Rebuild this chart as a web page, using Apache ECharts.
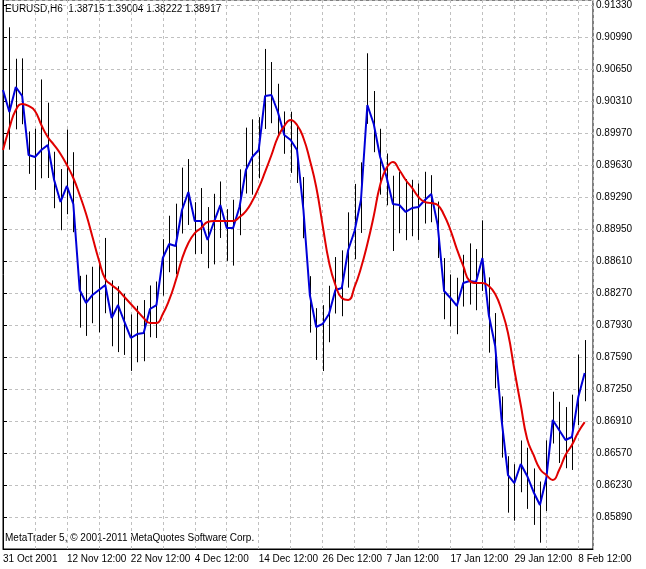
<!DOCTYPE html>
<html>
<head>
<meta charset="utf-8">
<script src="https://cdn.jsdelivr.net/npm/echarts@6/dist/echarts.min.js"></script>
<style>html,body{margin:0;padding:0;background:#fff}#main{width:646px;height:569px}</style>
</head>
<body>
<div id="main"></div>
<script>
// x labels, one every 10 bars
var dateLabels = ['31 Oct 2001', '12 Nov 12:00', '22 Nov 12:00', '4 Dec 12:00', '14 Dec 12:00',
    '26 Dec 12:00', '7 Jan 12:00', '17 Jan 12:00', '29 Jan 12:00', '8 Feb 12:00'];

// blue line (close)
var closeData = [0.90427, 0.90193, 0.90459, 0.90363, 0.89736, 0.89715, 0.89789, 0.89842, 0.89471, 0.89237,
    0.89407, 0.89216, 0.88302, 0.88164, 0.88249, 0.88302, 0.88355, 0.88004, 0.88142, 0.87962,
    0.87792, 0.87834, 0.87845, 0.88100, 0.88142, 0.88642, 0.88791, 0.88769, 0.89152, 0.89343,
    0.89035, 0.89035, 0.88833, 0.89024, 0.89205, 0.88961, 0.88961, 0.89184, 0.89577, 0.89715,
    0.89789, 0.90363, 0.90374, 0.90193, 0.89949, 0.89896, 0.89789, 0.89152, 0.88249, 0.87909,
    0.87941, 0.88047, 0.88302, 0.88323, 0.88727, 0.88929, 0.89258, 0.90267, 0.90066, 0.89715,
    0.89502, 0.89216, 0.89205, 0.89131, 0.89173, 0.89184, 0.89258, 0.89322, 0.88992, 0.88291,
    0.88217, 0.88132, 0.88376, 0.88397, 0.88387, 0.88642, 0.88036, 0.87707, 0.86921, 0.86336,
    0.86251, 0.86453, 0.86326, 0.86156, 0.86017, 0.86304, 0.86921, 0.86814, 0.86708, 0.86740,
    0.87165, 0.87420];

// red smoothed line
var maData = [0.89789, 0.90023, 0.90214, 0.90278, 0.90257, 0.90204, 0.90055, 0.89927, 0.89842, 0.89747,
    0.89630, 0.89492, 0.89311, 0.89109, 0.88865, 0.88621, 0.88419, 0.88355, 0.88302, 0.88227,
    0.88153, 0.88079, 0.88004, 0.87951, 0.87951, 0.88047, 0.88196, 0.88397, 0.88631, 0.88801,
    0.88907, 0.88961, 0.89024, 0.89035, 0.89035, 0.89035, 0.89035, 0.89077, 0.89141, 0.89247,
    0.89386, 0.89556, 0.89736, 0.89927, 0.90044, 0.90108, 0.90055, 0.89917, 0.89683, 0.89396,
    0.88992, 0.88599, 0.88355, 0.88217, 0.88196, 0.88334, 0.88536, 0.88791, 0.89088, 0.89417,
    0.89598, 0.89662, 0.89577, 0.89471, 0.89386, 0.89290, 0.89237, 0.89226, 0.89205, 0.89099,
    0.88939, 0.88737, 0.88557, 0.88397, 0.88376, 0.88376, 0.88344, 0.88259, 0.88089, 0.87845,
    0.87452, 0.87080, 0.86719, 0.86549, 0.86400, 0.86336, 0.86283, 0.86389, 0.86549, 0.86655,
    0.86793, 0.86899];

// bar reach above / below close, in pips
var upPips = [40, 90, 30, 40, 25, 30, 75, 45, 30, 35, 60, 55, 15, 30, 30, 30, 50, 40, 20, 30,
    25, 30, 35, 25, 25, 20, 30, 45, 45, 35, 20, 35, 35, 30, 25, 20, 30, 40, 45, 40,
    35, 50, 35, 30, 25, 30, 25, 35, 20, 20, 20, 30, 35, 40, 40, 50, 40, 55, 35, 30,
    25, 30, 35, 35, 30, 25, 30, 20, 25, 35, 25, 30, 30, 40, 35, 40, 40, 35, 25, 20,
    20, 25, 30, 25, 25, 40, 30, 30, 35, 45, 45, 35];
var downPips = [30, 40, 45, 30, 20, 35, 30, 35, 30, 30, 30, 30, 40, 35, 30, 45, 30, 30, 50, 35,
    35, 30, 30, 30, 35, 40, 30, 30, 25, 35, 35, 35, 30, 45, 35, 35, 40, 30, 25, 40,
    30, 35, 30, 25, 20, 35, 35, 30, 40, 35, 50, 30, 25, 30, 40, 30, 35, 20, 30, 40,
    30, 50, 30, 30, 30, 35, 25, 30, 35, 30, 30, 30, 25, 25, 30, 35, 40, 45, 40, 40,
    40, 30, 35, 35, 40, 35, 25, 35, 30, 35, 30, 30];

var font = '"Liberation Sans", Arial, sans-serif';
var myChart = echarts.init(document.getElementById('main'));

var hlData = [], blue = [], red = [];
for (var i = 0; i < closeData.length; i++) {
    hlData.push([i, closeData[i] + upPips[i] / 10000, closeData[i] - downPips[i] / 10000]);
    blue.push([i, closeData[i]]);
    red.push([i, maData[i]]);
}

var option = {
    animation: false,
    backgroundColor: '#fff',
    grid: {left: 2, right: 53, top: 0, bottom: 20, show: true, borderColor: '#000', borderWidth: 1},
    xAxis: {
        type: 'value', min: 0, max: 92.3, interval: 5,
        axisLine: {lineStyle: {color: '#000'}},
        axisTick: {show: false},
        splitLine: {show: true, lineStyle: {color: '#c0c0c0', type: [3, 3]}},
        axisLabel: {
            showMaxLabel: false, color: '#000', fontFamily: font, fontSize: 10, align: 'left', margin: 5,
            formatter: function (v) { return v % 10 === 0 ? dateLabels[v / 10] : ''; }
        }
    },
    yAxis: {
        type: 'value', position: 'right', min: 0.8555, max: 0.91383, interval: 0.0034,
        axisLine: {show: true, lineStyle: {color: '#000'}},
        axisTick: {show: true, inside: false, length: 4, lineStyle: {color: '#000'}},
        splitLine: {show: true, lineStyle: {color: '#c0c0c0', type: [3, 3]}},
        axisLabel: {
            showMinLabel: false, showMaxLabel: false, color: '#000', fontFamily: font, fontSize: 10, margin: 3,
            formatter: function (v) { return v.toFixed(5); }
        }
    },
    graphic: [
        {type: 'text', left: 5, top: 4, style: {text: 'EURUSD,H6  1.38715 1.39004 1.38222 1.38917', font: '10px ' + font, fill: '#000'}},
        {type: 'text', left: 5, top: 533, style: {text: 'MetaTrader 5, © 2001-2011 MetaQuotes Software Corp.', font: '10px ' + font, fill: '#000'}}
    ],
    series: [
        {
            type: 'custom', silent: true, data: hlData, encode: {x: 0, y: [1, 2]},
            renderItem: function (params, api) {
                var top = api.coord([api.value(0), api.value(1)]);
                var bot = api.coord([api.value(0), api.value(2)]);
                var x = Math.round(top[0]) + 0.5;
                return {type: 'line', shape: {x1: x, y1: top[1], x2: x, y2: bot[1]},
                    style: {stroke: '#000', lineWidth: 1}};
            }
        },
        {type: 'line', data: blue, symbol: 'none', lineStyle: {color: '#0000d8', width: 2}, z: 3},
        {type: 'line', data: red, symbol: 'none', smooth: true, lineStyle: {color: '#e00000', width: 2}, z: 4}
    ]
};
myChart.setOption(option);
</script>
</body>
</html>
